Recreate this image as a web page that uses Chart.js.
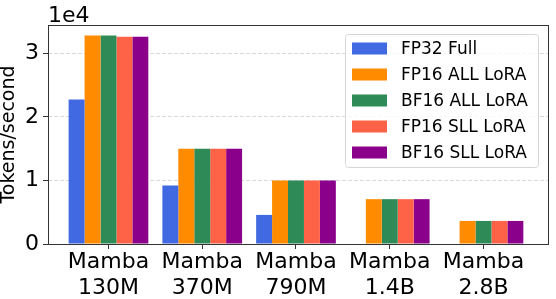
<!DOCTYPE html>
<html>
<head>
<meta charset="utf-8">
<script src="https://cdn.jsdelivr.net/npm/chart.js@4"></script>
<style>
  body { margin: 0; background: #fff; }
  canvas { display: block; }
</style>
</head>
<body>
<canvas id="throughputChart" width="556" height="299"></canvas>
<script>
// 模型与吞吐量数据 (Tokens/second)
const models = ['Mamba 130M', 'Mamba 370M', 'Mamba 790M', 'Mamba 1.4B', 'Mamba 2.8B'];
const fp32Full = [22740, 9200, 4580, null, null];
const fp16AllLora = [32840, 15000, 10000, 7060, 3630];
const bf16AllLora = [32840, 15000, 10000, 7060, 3630];
const fp16SllLora = [32640, 15000, 10000, 7060, 3630];
const bf16SllLora = [32640, 15000, 10000, 7060, 3630];
const yTicks = [0, 10000, 20000, 30000];
const yScaleExp = 4;

const FONT = "'DejaVu Sans', sans-serif";

function toPoints(values) {
    return values.map((v, i) => ({ x: i, y: v }));
}

function makeDataset(label, values, color) {
    return {
        label: label,
        data: toPoints(values),
        backgroundColor: color,
        borderWidth: 0
    };
}

// 边框、图例和 1e4 标记
const framePlugin = {
    id: 'frame',
    afterDatasetsDraw(chart) {
        const { ctx, chartArea: a } = chart;
        ctx.save();
        ctx.strokeStyle = '#333';
        ctx.lineWidth = 1;
        ctx.strokeRect(Math.round(a.left) + 0.5, Math.round(a.top) + 0.5,
            Math.round(a.right - a.left), Math.round(a.bottom - a.top));

        // 科学计数法标记
        ctx.fillStyle = '#000';
        ctx.font = '22px ' + FONT;
        ctx.textAlign = 'left';
        ctx.textBaseline = 'alphabetic';
        ctx.fillText('1e' + yScaleExp, a.left, a.top - 3);

        // 图例
        const bx = 345, by = 34, bw = 193, bh = 133;
        ctx.beginPath();
        ctx.roundRect(bx + 0.5, by + 0.5, bw, bh, 3);
        ctx.fillStyle = 'rgba(255,255,255,0.8)';
        ctx.fill();
        ctx.strokeStyle = '#d6d6d6';
        ctx.stroke();
        ctx.font = '17px ' + FONT;
        ctx.textBaseline = 'middle';
        chart.data.datasets.forEach((ds, i) => {
            const cy = 48.5 + i * 26;
            ctx.fillStyle = ds.backgroundColor;
            ctx.fillRect(352, cy - 6, 35, 12);
            ctx.fillStyle = '#000';
            ctx.fillText(ds.label, 401, cy + 1);
        });
        ctx.restore();
    }
};

document.addEventListener('DOMContentLoaded', function() {
    const ctx = document.getElementById('throughputChart').getContext('2d');
    new Chart(ctx, {
        type: 'bar',
        data: {
            datasets: [
                makeDataset('FP32 Full', fp32Full, '#4169E1'),
                makeDataset('FP16 ALL LoRA', fp16AllLora, '#FF8C00'),
                makeDataset('BF16 ALL LoRA', bf16AllLora, '#2E8B57'),
                makeDataset('FP16 SLL LoRA', fp16SllLora, '#FF6347'),
                makeDataset('BF16 SLL LoRA', bf16SllLora, '#8B008B')
            ]
        },
        options: {
            responsive: false,
            animation: false,
            categoryPercentage: 0.85,
            barPercentage: 1.0,
            layout: { padding: { top: 25, right: 8, left: 0, bottom: 0 } },
            plugins: {
                legend: { display: false },
                tooltip: { enabled: false }
            },
            scales: {
                x: {
                    type: 'linear',
                    min: -0.645,
                    max: 4.688,
                    offset: false,
                    afterFit(scale) { scale.height = 55; },
                    grid: {
                        offset: false,
                        drawOnChartArea: false,
                        tickLength: 5,
                        tickColor: '#333'
                    },
                    border: { display: false },
                    ticks: {
                        stepSize: 1,
                        includeBounds: false,
                        autoSkip: false,
                        maxRotation: 0,
                        padding: 1,
                        color: '#000',
                        font: { family: FONT, size: 22, lineHeight: 1.15 },
                        callback: (v) => Number.isInteger(v) && models[v] ? models[v].split(' ') : ''
                    }
                },
                y: {
                    min: 0,
                    max: 34480,
                    afterFit(scale) { scale.width = 48; },
                    afterBuildTicks(scale) { scale.ticks = yTicks.map(v => ({ value: v })); },
                    grid: {
                        color: '#d9d9d9',
                        tickLength: 5,
                        tickColor: '#333',
                        tickBorderDash: []
                    },
                    border: { display: false, dash: [4, 2] },
                    ticks: {
                        padding: 4,
                        color: '#000',
                        font: { family: FONT, size: 22 },
                        callback: (v) => v / Math.pow(10, yScaleExp)
                    },
                    title: {
                        display: true,
                        text: 'Tokens/second',
                        color: '#000',
                        padding: 0,
                        font: { family: FONT, size: 19, lineHeight: 1.0 }
                    }
                }
            }
        },
        plugins: [framePlugin]
    });
});
</script>
</body>
</html>
